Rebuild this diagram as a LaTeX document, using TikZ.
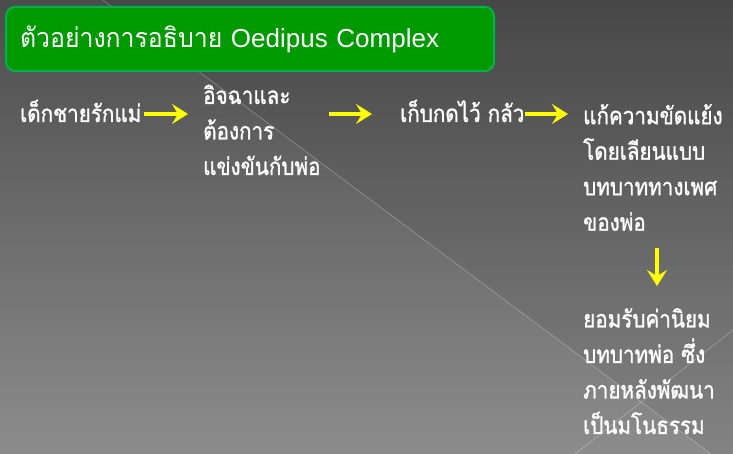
\documentclass[tikz,border=0pt]{standalone}
\usepackage{fontspec}
\setmainfont{Liberation Sans}
\newfontfamily\thai[Script=Thai,FakeStretch=0.86,FakeBold=1.2]{Loma}
\newfontfamily\thaititle[Script=Thai,FakeStretch=0.92]{Loma}
\usetikzlibrary{arrows.meta}
\definecolor{bgtop}{RGB}{76,76,76}
\definecolor{bgbot}{RGB}{140,140,140}
\definecolor{tgreen}{RGB}{0,153,0}
\definecolor{tborder}{RGB}{0,176,80}
\definecolor{arrowyellow}{RGB}{255,255,0}
\tikzset{
  txt/.style={text=white, inner sep=0pt, align=left, font=\thai\fontsize{24}{35.5}\selectfont},
  arr/.style={draw=arrowyellow, line width=3.5pt, -{Stealth[length=16pt,width=20pt,inset=6pt]}},
  deco/.style={draw=white, draw opacity=0.28, line width=0.7pt},
  titlebox/.style={fill=tgreen, draw=tborder, line width=2pt, rounded corners=9pt,
     text=white, inner xsep=14pt, inner ysep=0pt, align=left,
     minimum width=488pt, minimum height=64pt, text width=460pt,
     font=\fontsize{26}{30}\selectfont}
}
\begin{document}
\begin{tikzpicture}[x=1pt,y=-1pt]
\useasboundingbox (0,0) rectangle (733,454);
% background
\fill[top color=bgtop, bottom color=bgbot] (0,0) rectangle (733,454);
\fill[black, opacity=0.06] (103,0) -- (733,0) -- (733,454) -- (711,454) -- cycle;
\draw[deco] (103,0) -- (711,454);
\draw[deco] (575,454) -- (733,330);
% title
\node[titlebox, anchor=north west] (title) at (5,6) {{\thaititle\fontsize{27}{30}\selectfont ตัวอย่างการอธิบาย} Oedipus Complex};
% texts
\node[txt, anchor=base west] (n1) at (20,122) {เด็กชายรักแม่};
\node[txt, anchor=north west] (n2) at (203,84.5) {อิจฉาและ\\ต้องการ\\แข่งขันกับพ่อ};
\node[txt, anchor=north west] (n4) at (583,104) {แก้ความขัดแย้ง\\โดยเลียนแบบ\\บทบาททางเพศ\\ของพ่อ};
\node[txt, anchor=base west] (n3) at (400,122) {เก็บกดไว้ กลัว};
\node[txt, anchor=north west] (n5) at (583,308) {ยอมรับค่านิยม\\บทบาทพ่อ ซึ่ง\\ภายหลังพัฒนา\\เป็นมโนธรรม};
% arrows
\coordinate (dx) at (657,0);
\draw[arr] ([xshift=2pt,yshift=8pt]n1.base east) -- ([xshift=-15pt,yshift=8pt]n2.west |- n1.base east);
\draw[arr] ([xshift=8pt,yshift=8pt]n2.east |- n1.base east) -- ([xshift=-28pt,yshift=8pt]n3.west |- n1.base east);
\draw[arr] ([yshift=8pt]n3.base east) -- ([xshift=-15pt,yshift=8pt]n4.west |- n3.base east);
\draw[arr] ([yshift=-17pt]n4.south -| dx) -- ([yshift=22pt]n5.north -| dx);
\end{tikzpicture}
\end{document}
